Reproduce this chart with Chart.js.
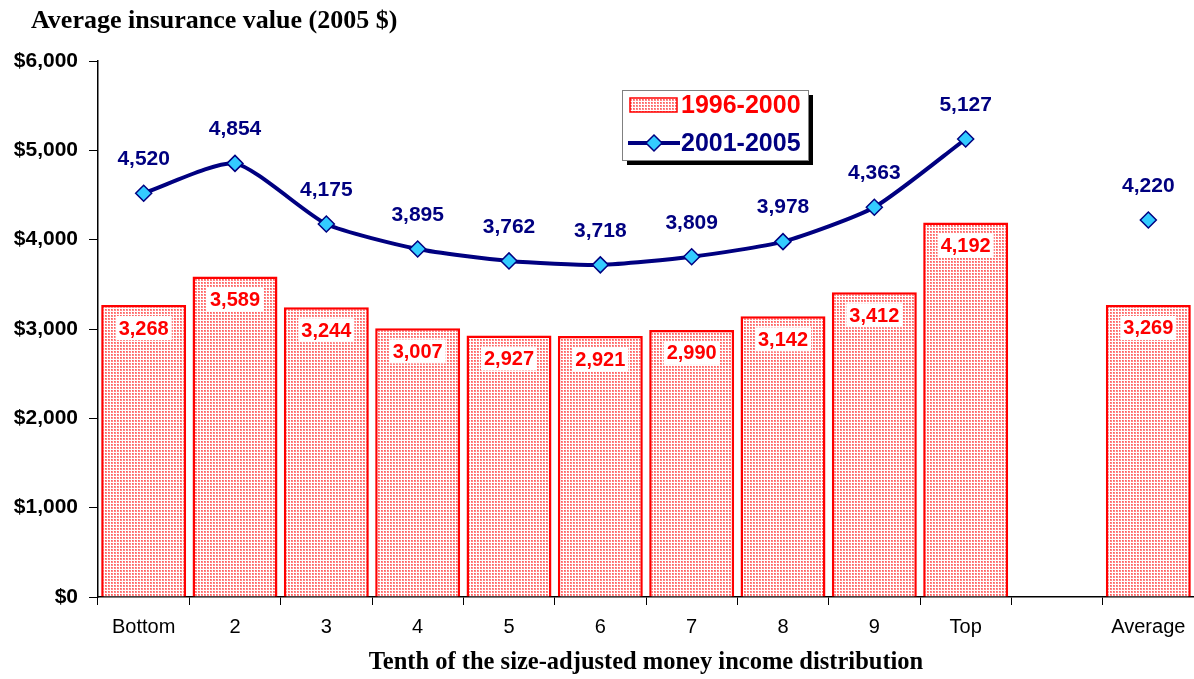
<!DOCTYPE html>
<html>
<head>
<meta charset="utf-8">
<script src="https://cdn.jsdelivr.net/npm/chart.js@4.4.1/dist/chart.umd.min.js"></script>
<style>
  html, body { margin:0; padding:0; background:#fff; }
  #wrap { width:1194px; height:679px; position:relative; }
</style>
</head>
<body>
<div id="wrap"><canvas id="chart" width="1194" height="679"></canvas></div>
<script>
// Datos
const categorias = ['Bottom','2','3','4','5','6','7','8','9','Top','','Average'];
const serie9600  = [3268, 3589, 3244, 3007, 2927, 2921, 2990, 3142, 3412, 4192, null, 3269];
const serie0105  = [4520, 4854, 4175, 3895, 3762, 3718, 3809, 3978, 4363, 5127, null, 4220];
const ticksY     = [0, 1000, 2000, 3000, 4000, 5000, 6000];

const ROJO  = '#FF0000';
const NAVY  = '#000080';
const CIAN  = '#33CCFF';

const fmt = n => n.toLocaleString('en-US');

// patron punteado de las barras (bloques rosados con lineas blancas)
function patronPuntos() {
  const c = document.createElement('canvas');
  c.width = 3; c.height = 3;
  const g = c.getContext('2d');
  g.fillStyle = '#fff';
  g.fillRect(0,0,3,3);
  g.fillStyle = 'rgb(255,135,135)';
  g.fillRect(0,0,2,2);
  g.fillStyle = 'rgb(255,95,95)';
  g.fillRect(0,0,1,1);
  return g.createPattern(c, 'repeat');
}
const patron = patronPuntos();

// etiquetas, titulos y leyenda
const extras = {
  id: 'extras',
  afterDatasetsDraw(chart) {
    const ctx = chart.ctx;
    const area = chart.chartArea;
    ctx.save();

    // etiquetas de barras
    ctx.font = 'bold 20px Arial';
    ctx.textAlign = 'center';
    ctx.textBaseline = 'middle';
    chart.getDatasetMeta(0).data.forEach((b, i) => {
      const v = serie9600[i];
      if (v == null) return;
      const txt = fmt(v);
      const w = ctx.measureText(txt).width + 6;
      const y = b.y + 23;
      ctx.fillStyle = '#fff';
      ctx.fillRect(b.x - w/2, y - 12, w, 24);
      ctx.fillStyle = ROJO;
      ctx.fillText(txt, b.x, y + 1);
    });

    // etiquetas de la linea
    ctx.font = 'bold 21px Arial';
    ctx.fillStyle = NAVY;
    chart.getDatasetMeta(1).data.forEach((p, i) => {
      const v = serie0105[i];
      if (v == null) return;
      ctx.fillText(fmt(v), p.x, p.y - 34);
    });

    // titulo
    ctx.font = 'bold 26px "Liberation Serif", "Times New Roman", serif';
    ctx.fillStyle = '#000';
    ctx.textAlign = 'left';
    ctx.fillText('Average insurance value (2005 $)', 31, 21);

    // titulo eje x
    ctx.font = 'bold 24.5px "Liberation Serif", "Times New Roman", serif';
    ctx.textAlign = 'center';
    ctx.fillText('Tenth of the size-adjusted money income distribution', (area.left + area.right)/2, 663);

    // leyenda
    const lx = 622, ly = 90, lw = 186, lh = 70;
    ctx.fillStyle = '#000';
    ctx.fillRect(lx + 5, ly + 5, lw, lh);
    ctx.fillStyle = '#fff';
    ctx.fillRect(lx, ly, lw, lh);
    ctx.strokeStyle = '#808080';
    ctx.lineWidth = 1;
    ctx.strokeRect(lx + 0.5, ly + 0.5, lw, lh);

    ctx.fillStyle = patron;
    ctx.fillRect(lx + 8, ly + 8, 47, 14);
    ctx.strokeStyle = ROJO;
    ctx.lineWidth = 1.5;
    ctx.strokeRect(lx + 8, ly + 8, 47, 14);

    ctx.strokeStyle = NAVY;
    ctx.lineWidth = 4;
    ctx.beginPath();
    ctx.moveTo(lx + 6, ly + 53);
    ctx.lineTo(lx + 58, ly + 53);
    ctx.stroke();
    ctx.fillStyle = CIAN;
    ctx.lineWidth = 1.5;
    ctx.beginPath();
    const dx = lx + 32, dy = ly + 53, r = 8;
    ctx.moveTo(dx, dy - r); ctx.lineTo(dx + r, dy); ctx.lineTo(dx, dy + r); ctx.lineTo(dx - r, dy);
    ctx.closePath(); ctx.fill(); ctx.stroke();

    ctx.font = 'bold 25px Arial';
    ctx.textAlign = 'left';
    ctx.fillStyle = ROJO;
    ctx.fillText('1996-2000', lx + 59, ly + 16);
    ctx.fillStyle = NAVY;
    ctx.fillText('2001-2005', lx + 59, ly + 54);

    ctx.restore();
  }
};

new Chart(document.getElementById('chart'), {
  data: {
    labels: categorias,
    datasets: [
      {
        type: 'bar',
        label: '1996-2000',
        data: serie9600,
        backgroundColor: patron,
        borderColor: ROJO,
        borderWidth: 2.5,
        barPercentage: 0.93,
        categoryPercentage: 1,
        order: 2,
      },
      {
        type: 'line',
        label: '2001-2005',
        data: serie0105,
        borderColor: NAVY,
        borderWidth: 4,
        tension: 0.2,
        spanGaps: false,
        pointStyle: 'rectRot',
        pointRadius: 8,
        pointBackgroundColor: CIAN,
        pointBorderColor: NAVY,
        pointBorderWidth: 1.5,
        order: 1,
      }
    ]
  },
  options: {
    responsive: false,
    animation: false,
    layout: { autoPadding: false, padding: { top: 61, right: 0, left: 0, bottom: 0 } },
    plugins: {
      legend: { display: false },
      tooltip: { enabled: false },
    },
    scales: {
      x: {
        offset: true,
        grid: { display: true, drawOnChartArea: false, offset: true, color: '#000', tickLength: 8, tickWidth: 1 },
        border: { display: true, color: '#000', width: 1.5 },
        ticks: { color: '#000', font: { family: 'Arial', size: 20 }, padding: 10, maxRotation: 0, autoSkip: false },
        afterFit: s => { s.height = 82; s.paddingLeft = 0; s.paddingRight = 0; },
      },
      y: {
        min: 0, max: 6000,
        afterBuildTicks: s => { s.ticks = ticksY.map(v => ({ value: v })); },
        grid: { display: true, drawOnChartArea: false, color: '#000', tickLength: 9 },
        border: { display: true, color: '#000', width: 1.5 },
        ticks: { color: '#000', font: { family: 'Arial', size: 21, weight: 'bold' }, padding: 11,
                 callback: v => '$' + fmt(v) },
        afterFit: s => { s.width = 98; s.paddingTop = 0; s.paddingBottom = 0; },
      }
    }
  },
  plugins: [extras]
});
</script>
</body>
</html>
